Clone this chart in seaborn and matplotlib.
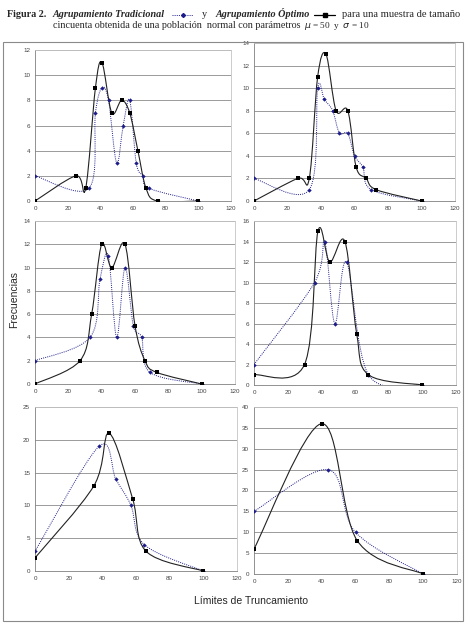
import numpy as np
import matplotlib
matplotlib.use("Agg")
import matplotlib.pyplot as plt
from matplotlib.path import Path
from matplotlib.patches import PathPatch, Rectangle
from matplotlib.lines import Line2D
import seaborn as sns

# Agrupamiento Óptimo (línea continua, cuadrados) y Tradicional (punteada, rombos)
opt_x1 = [0, 25, 31, 37, 41, 47, 53, 58, 63, 68, 75, 100]
opt_y1 = [0, 2, 1, 9, 11, 7, 8, 7, 4, 1, 0, 0]
trad_x1 = [0, 33, 37, 41, 45, 50, 54, 58, 62, 66, 70, 100]
trad_y1 = [2, 1, 7, 9, 8, 3, 6, 8, 3, 2, 1, 0]

opt_x2 = [0, 26, 33, 38, 43, 49, 56, 61, 67, 73, 100]
opt_y2 = [0, 2, 2, 11, 13, 8, 8, 3, 2, 1, 0]
trad_x2 = [0, 33, 38, 42, 47, 51, 56, 60, 65, 70, 100]
trad_y2 = [2, 1, 10, 9, 8, 6, 6, 4, 3, 1, 0]

opt_x3 = [0, 27, 34, 40, 46, 54, 60, 66, 73, 100]
opt_y3 = [0, 2, 6, 12, 10, 12, 5, 2, 1, 0]
trad_x3 = [0, 33, 39, 44, 49, 54, 59, 64, 69, 100]
trad_y3 = [2, 4, 9, 11, 4, 10, 5, 4, 1, 0]

opt_x4 = [0, 30, 38, 45, 54, 61, 68, 100]
opt_y4 = [1, 2, 15, 12, 14, 5, 1, 0]
trad_x4 = [0, 36, 42, 48, 55, 68, 100]
trad_y4 = [2, 10, 14, 6, 12, 1, 0]

opt_x5 = [0, 35, 44, 58, 66, 100]
opt_y5 = [2, 13, 21, 11, 3, 0]
trad_x5 = [0, 38, 48, 57, 65, 100]
trad_y5 = [3, 19, 14, 10, 4, 0]

opt_x6 = [0, 40, 61, 100]
opt_y6 = [6, 36, 8, 0]
trad_x6 = [0, 44, 60, 100]
trad_y6 = [15, 25, 10, 0]

x_ticks = [0, 20, 40, 60, 80, 100, 120]
y_max = [12, 14, 14, 16, 25, 40]
y_step = [2, 2, 2, 2, 5, 5]

W, H = 469, 626
AZUL = "#1c1c8a"

sns.set_style("white")
plt.rcParams["font.family"] = ["Liberation Sans", "DejaVu Sans"]

fig = plt.figure(figsize=(W / 100, H / 100), dpi=100)


def caja(x0, y0, x1, y1):
    # pixeles de la pagina -> fraccion de figura
    return [x0 / W, 1 - y1 / H, (x1 - x0) / W, (y1 - y0) / H]


def curva_suave(ax, xs, ys, **kw):
    # linea suavizada al estilo Excel (Catmull-Rom -> Bezier)
    p = np.column_stack([xs, ys]).astype(float)
    n = len(p)
    verts = [p[0]]
    codes = [Path.MOVETO]
    for i in range(n - 1):
        a = p[max(i - 1, 0)]
        b = p[min(i + 2, n - 1)]
        verts += [p[i] + (p[i + 1] - a) / 6, p[i + 1] - (b - p[i]) / 6, p[i + 1]]
        codes += [Path.CURVE4] * 3
    ax.add_patch(PathPatch(Path(verts, codes), fill=False, transform=ax.transData, **kw))


paneles = [
    (caja(35, 50, 231, 201), opt_x1, opt_y1, trad_x1, trad_y1),
    (caja(254, 43, 455, 201), opt_x2, opt_y2, trad_x2, trad_y2),
    (caja(35, 221, 235, 384), opt_x3, opt_y3, trad_x3, trad_y3),
    (caja(254, 221, 456, 385), opt_x4, opt_y4, trad_x4, trad_y4),
    (caja(35, 407, 237, 571), opt_x5, opt_y5, trad_x5, trad_y5),
    (caja(254, 407, 457, 574), opt_x6, opt_y6, trad_x6, trad_y6),
]

for k, (rect, ox, oy, tx, ty) in enumerate(paneles):
    ax = fig.add_axes(rect)
    curva_suave(ax, tx, ty, edgecolor=AZUL, lw=0.7, linestyle=(0, (1, 1.2)), zorder=3)
    curva_suave(ax, ox, oy, edgecolor="#222222", lw=0.8, zorder=4)
    sns.scatterplot(x=tx, y=ty, ax=ax, marker="D", s=5, color=AZUL, linewidth=0, zorder=5)
    sns.scatterplot(x=ox, y=oy, ax=ax, marker="s", s=7, color="black", linewidth=0, zorder=6)

    ax.set_xlim(0, 120)
    ax.set_ylim(0, y_max[k])
    ax.set_xticks(x_ticks)
    ax.set_yticks(np.arange(0, y_max[k] + 1, y_step[k]))
    ax.yaxis.grid(True, color="#9a9a9a", lw=0.7)
    ax.set_axisbelow(True)
    ax.tick_params(direction="out", length=2, width=0.5, color="#777777",
                   labelsize=4.5, labelcolor="#444444", pad=1.5)
    for lado in ["left", "bottom"]:
        ax.spines[lado].set_color("#808080")
        ax.spines[lado].set_linewidth(0.6)
    for lado in ["top", "right"]:
        ax.spines[lado].set_color("#c4c4c4")
        ax.spines[lado].set_linewidth(0.6)

# marco exterior y rotulos comunes
fig.add_artist(Rectangle((3 / W, 1 - 621 / H), 460 / W, 579 / H, transform=fig.transFigure,
                         fill=False, edgecolor="#8a8a8a", lw=0.8))
fig.text(14 / W, 1 - 300 / H, "Frecuencias", rotation=90, ha="center", va="center", fontsize=7.5)
fig.text(251 / W, 1 - 601 / H, "Límites de Truncamiento", ha="center", va="center", fontsize=7.5)

# titulo de la figura
serif = ["Liberation Serif", "DejaVu Serif"]
ts = 7.3
y1 = 1 - 17 / H
y2 = 1 - 28.5 / H
fig.text(7 / W, y1, "Figura 2.", family=serif, weight="bold", fontsize=ts, va="baseline")
fig.text(53 / W, y1, "Agrupamiento Tradicional", family=serif, weight="bold", style="italic",
         fontsize=ts, va="baseline")
fig.text(202 / W, y1, "y", family=serif, fontsize=ts, va="baseline")
fig.text(216 / W, y1, "Agrupamiento Óptimo", family=serif, weight="bold", style="italic",
         fontsize=ts, va="baseline")
fig.text(342 / W, y1, "para una muestra de tamaño", family=serif, fontsize=ts + 0.3, va="baseline")
fig.text(53 / W, y2, "cincuenta obtenida de una población  normal con parámetros",
         family=serif, fontsize=ts, va="baseline")
fig.text(304 / W, y2, r"$\mu$ = 50  y  $\sigma$ = 10", family=serif, fontsize=ts - 0.6, va="baseline")

# muestras de leyenda dentro del titulo
ym = 1 - 14.5 / H
fig.add_artist(Line2D([172 / W, 193 / W], [ym, ym], color=AZUL, lw=0.7, linestyle=(0, (1, 1.2)),
                      transform=fig.transFigure))
fig.add_artist(Line2D([182.5 / W], [ym], color=AZUL, marker="D", markersize=2, lw=0,
                      transform=fig.transFigure))
fig.add_artist(Line2D([314 / W, 335 / W], [ym, ym], color="black", lw=0.9, transform=fig.transFigure))
fig.add_artist(Line2D([325 / W], [ym], color="black", marker="s", markersize=2.6, lw=0,
                      transform=fig.transFigure))

fig.savefig("out.png", dpi=100)
